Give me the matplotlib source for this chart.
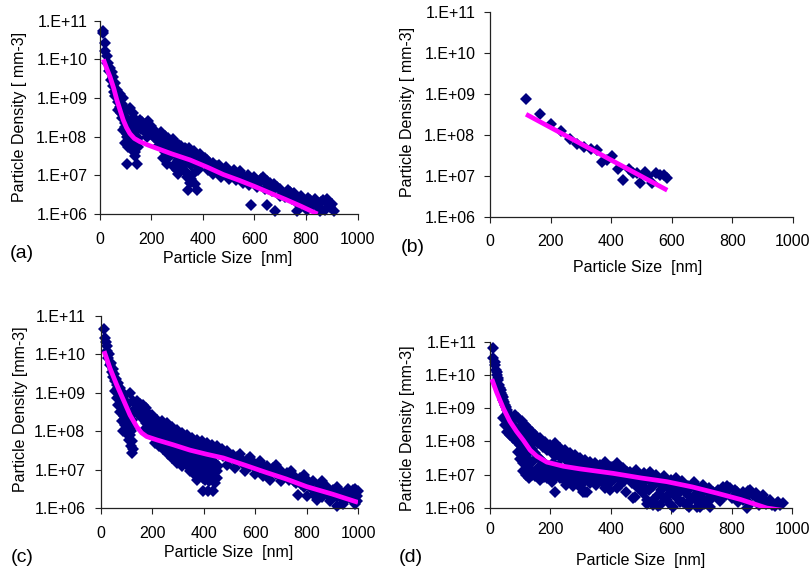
import matplotlib
matplotlib.use("Agg")
import matplotlib.pyplot as plt
from matplotlib.ticker import FixedLocator, NullLocator

plt.rcParams['font.family'] = ['Liberation Sans', 'DejaVu Sans']

# ---------------- data ----------------
a_x = [15, 15, 21, 21, 28, 34, 41, 47, 54, 60, 66, 79, 92, 86, 73, 105, 118, 131, 112, 99, 92, 105, 99, 112,
       125, 138, 151, 131, 144, 118, 105, 144, 138, 157, 170, 189, 202, 221, 241, 183, 215, 260, 280, 273,
       299, 325, 351, 377, 403, 428, 454, 480, 273, 260, 286, 306, 325, 338, 351, 344, 377, 364, 383, 247,
       415, 454, 493, 519, 545, 570, 596, 635, 661, 687, 712, 738, 764, 790, 816, 842, 868, 881, 894, 907,
       589, 648, 680, 764, 803, 855,
       420, 440, 470, 500, 510, 530, 555, 560, 580, 610, 620, 640, 655, 670, 700, 720, 745, 760, 780, 800,
       820, 830, 850, 875, 885,
       160, 175, 195, 210, 230, 250, 265, 290, 310, 330, 345, 365, 390, 230, 245, 255, 290, 305, 320, 340,
       355, 370, 395, 300, 335, 355, 370,
       30, 38, 45, 52, 58, 62, 70, 78, 82, 88, 95, 100, 108, 115, 122, 130, 125, 140, 150,
       135, 145, 155, 165, 180, 200, 215, 240, 255, 270, 285, 300, 315, 335, 355, 375, 395, 410, 440, 465,
       490, 520, 550, 575, 600, 625, 650, 675, 700, 730, 755, 780, 810, 835, 860, 880, 900]
a_y = [5.5e10, 4.7e10, 2.6e10, 1.6e10, 1.2e10, 7.9e9, 5.9e9, 4.8e9, 3.5e9, 2.4e9, 1.6e9, 1.3e9, 9.8e8, 7.2e8,
       4.9e8, 4.9e8, 5.4e8, 4.1e8, 2.7e8, 2.2e8, 1.5e8, 1.0e8, 6.8e7, 5.5e7, 4.6e7, 4.1e7, 5.5e7, 6.8e7,
       8.3e7, 1.5e8, 2.0e7, 2.0e7, 3.1e7, 2.7e8, 2.0e8, 2.5e8, 1.5e8, 1.2e8, 1.1e8, 1.0e8, 9.1e7, 7.4e7,
       6.8e7, 5.5e7, 4.6e7, 4.1e7, 3.4e7, 2.8e7, 2.3e7, 1.9e7, 1.5e7, 1.3e7, 3.1e7, 2.0e7, 1.7e7, 1.1e7,
       1.7e7, 9.3e6, 6.3e6, 4.3e6, 4.3e6, 1.1e7, 1.4e7, 2.8e7,
       2.5e7, 1.7e7, 1.4e7, 1.15e7, 1.26e7, 9.3e6, 7.6e6, 9.3e6, 6.3e6, 5.1e6, 3.5e6, 3.8e6, 2.8e6, 2.3e6,
       2.3e6, 1.9e6, 2.3e6, 1.9e6, 1.55e6, 1.17e6,
       1.7e6, 1.7e6, 1.17e6, 1.17e6, 1.3e6, 1.17e6,
       1.4e7, 1.1e7, 9e6, 8e6, 1e7, 7.5e6, 6.5e6, 8e6, 5.5e6, 5e6, 6.5e6, 4.5e6, 5.5e6, 4e6, 3e6, 2.7e6,
       2.5e6, 2e6, 1.8e6, 1.6e6, 1.5e6, 1.8e6, 1.4e6, 1.3e6, 2.1e6,
       1.6e8, 1.3e8, 1.15e8, 1.0e8, 9e7, 8.5e7, 9.5e7, 7e7, 6e7, 5.2e7, 5e7, 4.2e7, 3.5e7, 6e7, 5e7, 4e7,
       3.7e7, 2.5e7, 2.8e7, 2.2e7, 1.8e7, 2e7, 1.8e7, 1.4e7, 1.2e7, 8e6, 6e6,
       8e9, 5e9, 3e9, 2e9, 1.4e9, 1.1e9, 8e8, 6e8, 4e8, 3e8, 3.5e8, 1.8e8, 1.2e8, 9e7, 7e7, 1.1e8, 2e8,
       1.4e8, 9e7,
       3e8, 2.2e8, 1.8e8, 2.4e8, 1.7e8, 1.9e8, 1.4e8, 1.3e8, 1.05e8, 8e7, 8.5e7, 6.5e7, 5.8e7, 4.8e7, 4.2e7,
       3.6e7, 3e7, 2.8e7, 2.1e7, 1.8e7, 1.6e7, 1.4e7, 1.1e7, 1.05e7, 9e6, 8e6, 7e6, 6e6, 4.5e6, 4.3e6,
       3.4e6, 3e6, 2.6e6, 2.4e6, 2e6, 2.4e6, 1.8e6]
a_fit_x = [15, 28, 41, 55, 67, 80, 92, 105, 118, 135, 157, 190, 222, 280, 351, 420, 480, 540, 600, 661, 720,
           780, 845]
a_fit_y = [1e10, 5.8e9, 3.5e9, 1.8e9, 9e8, 4.8e8, 2.7e8, 1.7e8, 1.2e8, 9e7, 7.4e7, 6e7, 5e7, 3.6e7, 2.5e7,
           1.6e7, 1.05e7, 7.5e6, 5.2e6, 3.5e6, 2.4e6, 1.6e6, 1.0e6]

b_x = [119, 165, 201, 234, 264, 286, 310, 333, 352, 371, 385, 401, 424, 438, 458, 471, 484, 495, 512, 520,
       535, 548, 561, 574, 583]
b_y = [7.6e8, 3.2e8, 1.9e8, 1.25e8, 7.8e7, 5.9e7, 5.0e7, 4.5e7, 4.2e7, 2.2e7, 2.4e7, 3.0e7, 1.45e7, 8e6,
       1.45e7, 1.17e7, 1.17e7, 6.8e6, 1.25e7, 1e7, 6.8e6, 1.17e7, 1.07e7, 1.05e7, 8.8e6]
b_fit_x = [119, 585]
b_fit_y = [3.2e8, 4.5e6]

c_x = [12, 16, 20, 22, 25, 29, 35, 42, 48, 55, 61, 67, 74, 80, 87, 93, 100, 106, 113, 119, 106, 100, 113,
       119, 119, 80, 87, 93, 74, 67, 61, 55, 113, 126, 139, 152, 165, 178, 197, 217, 236, 256, 275, 295,
       314, 333, 353, 372, 392, 411, 431, 450, 470, 489, 256, 268, 288, 301, 320, 333, 346, 359, 372, 385,
       398, 411, 424, 437, 443, 372, 405, 450, 398, 418, 437, 346,
       30, 38, 45, 52, 58, 65, 72, 78, 85, 90, 95, 98, 102, 108, 110, 115, 122, 85, 90, 95, 130, 145, 160,
       175, 190, 210, 170, 190, 205, 220, 240, 230, 250, 270, 290, 310, 330, 350, 370, 390, 410, 430, 250,
       270, 300, 320, 340, 360, 380, 400, 420, 440, 290, 310, 330, 350, 365, 390, 410, 425, 445,
       463, 489, 515, 541, 567, 593, 619, 645, 671, 697, 722, 748, 774, 800, 826, 852, 878, 904, 930, 956,
       982, 995, 489, 632, 658, 768, 800, 839, 917, 943, 975, 988,
       475, 500, 520, 530, 550, 560, 580, 600, 610, 630, 650, 660, 680, 700, 710, 730, 750, 760, 780, 790,
       810, 820, 840, 850, 870, 880, 890, 905, 920, 935, 950, 965, 975, 985, 995, 830, 860, 890, 600, 560,
       520, 700,
       140, 150, 160, 175, 185, 200, 215, 225, 245, 260, 280, 300, 320, 340, 360, 380, 400, 420, 440, 460,
       210, 225, 240, 260, 275, 285, 295, 310, 315, 325, 340, 345, 355, 360, 375, 380, 395, 400, 410, 415,
       430, 430, 440, 450, 455, 395, 420, 445,
       540, 580, 620, 680, 740, 790, 860, 920, 960, 1000, 990, 980,
       125, 118, 110, 105, 100]
c_y = [4.6e10, 2.6e10, 2.1e10, 1.6e10, 1.2e10, 7.8e9, 5.2e9, 3.5e9, 2.6e9, 1.95e9, 1.6e9, 1.3e9, 1.07e9,
       8.7e8, 7.1e8, 5.9e8, 4.8e8, 3.2e8, 2.4e8, 1.95e8, 1.45e8, 9.8e7, 7.9e7, 5.4e7, 2.7e7, 1.8e8, 9.8e7,
       1.45e8, 3.2e8, 4.8e8, 7.1e8, 1.07e9, 9.5e8, 5.9e8, 4.8e8, 3.9e8, 4.8e8, 3.2e8, 2.6e8, 1.95e8,
       1.8e8, 1.6e8, 1.3e8, 1.07e8, 8.7e7, 7.9e7, 6.5e7, 5.9e7, 5.4e7, 4.9e7, 4.4e7, 4.0e7, 3.5e7,
       2.95e7, 3.5e7, 2.95e7, 2.2e7, 2.0e7, 1.6e7, 1.3e7, 1.1e7, 2.0e7, 8.9e6, 1.3e7, 7.2e6, 1.1e7,
       8.9e6, 6.0e6, 1.0e7, 5.4e6, 5.4e6, 6.0e6, 2.7e6, 2.7e6, 2.7e6, 2.2e7,
       1e10, 6e9, 4e9, 3e9, 2.2e9, 1.8e9, 1.3e9, 1.1e9, 8e8, 6e8, 4e8, 3e8, 2.2e8, 1.7e8, 1.2e8, 1e8,
       1.3e8, 3.5e8, 2.5e8, 2e8, 3.5e8, 2.8e8, 2.2e8, 1.6e8, 1.3e8, 1.1e8, 1.1e8, 8.5e7, 7e7, 6.5e7, 6e7,
       9e7, 8e7, 7e7, 6e7, 5e7, 4.5e7, 4e7, 3.5e7, 3e7, 2.8e7, 2.5e7, 5e7, 4.5e7, 4e7, 3.5e7, 3e7, 2.7e7,
       2.2e7, 2e7, 1.8e7, 1.6e7, 3e7, 2.8e7, 2.4e7, 1.7e7, 1.4e7, 1.6e7, 1.4e7, 1.2e7, 1.3e7,
       3.0e7, 2.7e7, 2.4e7, 2.0e7, 1.8e7, 1.6e7, 1.45e7, 1.2e7, 1.1e7, 9.8e6, 7.9e6, 7.2e6, 5.9e6, 5.4e6,
       4.9e6, 4.0e6, 3.6e6, 3.0e6, 2.7e6, 2.5e6, 3.0e6, 2.0e6, 1.35e7, 6.6e6, 5.4e6, 2.2e6, 2.0e6,
       1.6e6, 1.1e6, 1.3e6, 1.6e6, 1.3e6,
       2.2e7, 2e7, 1.7e7, 2.1e7, 1.5e7, 1.3e7, 1.2e7, 1.1e7, 1.3e7, 9.5e6, 8.5e6, 1e7, 7.5e6, 7e6, 6e6,
       5.5e6, 5e6, 4.5e6, 4.2e6, 3.5e6, 3.8e6, 3.2e6, 3e6, 2.6e6, 2.8e6, 2.3e6, 2.1e6, 2.2e6, 1.9e6,
       1.8e6, 1.6e6, 1.9e6, 2.3e6, 2.6e6, 1.5e6, 2.2e6, 1.9e6, 1.5e6, 7.5e6, 9e6, 1.1e7, 5e6,
       6e8, 5e8, 3e8, 4e8, 2e8, 2.2e8, 1.5e8, 1.3e8, 1.2e8, 1.1e8, 9e7, 8e7, 6.5e7, 5.5e7, 5e7, 4.5e7, 4e7,
       3.6e7, 3.3e7, 2.6e7,
       5e7, 4e7, 3.5e7, 2.5e7, 2e7, 3.5e7, 1.5e7, 1.8e7, 1.2e7, 2e7, 1.5e7, 9e6, 1.2e7, 7.5e6, 1.1e7, 8e6,
       9e6, 1.2e7, 7.5e6, 1.7e7, 7e6, 1.5e7, 8e6, 9e6, 1.2e7, 6e6, 5e6, 4.5e6,
       2.6e7, 2.1e7, 1.7e7, 1.3e7, 9e6, 7e6, 5e6, 3.5e6, 3.2e6, 2.8e6, 3.2e6, 2e6,
       3.5e7, 4e7, 6e7, 8e7, 1.2e8]
c_fit_x = [12, 35, 61, 87, 113, 139, 158, 178, 217, 281, 346, 411, 476, 560, 645, 720, 800, 900, 1000]
c_fit_y = [1.2e10, 4.3e9, 1.6e9, 6.5e8, 2.6e8, 1.3e8, 9e7, 7.2e7, 5.9e7, 4.4e7, 3.2e7, 2.5e7, 2e7, 1.3e7,
           8.3e6, 5.7e6, 3.6e6, 2.3e6, 1.4e6]

d_x = [9, 11, 17, 20, 24, 28, 31, 35, 40, 44, 50, 55, 61, 66, 72, 77, 44, 50, 55, 66, 77, 88, 94, 99, 83, 94,
       105, 116, 127, 138, 149, 166, 182, 199, 215, 232, 248, 265, 282, 298, 315, 331, 348, 364, 381, 397,
       414, 110, 121, 138, 144, 160, 177, 188, 204, 215, 232, 248, 265, 282, 298, 309, 320, 331, 353, 364,
       386, 408,
       403, 419, 441, 463, 485, 508, 530, 552, 574, 596, 618, 640, 662, 684, 706, 728, 750, 773, 795, 817,
       839, 861, 883, 905, 927, 949, 971, 419, 463, 480, 508, 541, 563, 585, 607, 629, 651, 684, 706, 728,
       839, 850, 397, 475, 519, 541,
       15, 22, 26, 33, 38, 42, 48, 52, 58, 63, 68, 72, 80, 85, 90, 100, 105, 110, 115, 120, 125, 130, 135,
       140, 150, 160, 170, 180, 190, 200, 160, 175, 190, 205, 220, 235, 250, 265, 280, 295, 310, 325, 340,
       355, 370, 210, 225, 240, 255, 270, 290, 305, 320, 340, 355, 375, 390, 420, 430, 440, 450, 460, 470,
       480, 490, 500, 510, 520, 535, 545, 560, 570, 580, 590, 600, 610, 620, 630, 645, 655, 670, 680, 690,
       700, 715, 720, 740, 760, 780, 800, 820, 830, 860, 870, 895, 915, 935, 960, 430, 450, 490, 525, 555,
       575, 600, 620, 640, 660, 690, 710, 220, 250, 275, 300, 330, 350, 370, 380, 395, 150, 165, 130,
       95, 110, 120, 145, 155, 170, 185, 195, 210, 225, 240, 260, 275, 290, 305, 320, 335, 350, 365, 385, 400,
       100, 108, 118, 128, 140, 155, 165, 180, 190, 200, 215, 230, 245, 260, 275, 285, 300, 315, 325, 345,
       360, 375, 390, 405, 315,
       410, 425, 445, 455, 470, 485, 495, 505, 515, 530, 540, 550, 565, 575, 590, 605, 615, 625, 635, 650,
       665, 675, 695, 705, 725, 735, 755, 770, 785, 810, 820, 845, 855, 880, 890, 910, 925, 945, 955,
       520, 555, 595, 660, 695]
d_y = [6.6e10, 3.3e10, 2.0e10, 1.4e10, 1.0e10, 7.1e9, 5.0e9, 3.5e9, 2.5e9, 1.8e9, 1.26e9, 8.9e8, 6.3e8,
       5.0e8, 4.0e8, 3.2e8, 5.0e8, 3.1e8, 1.95e8, 1.55e8, 1.23e8, 9.8e7, 4.9e7, 7.8e7, 6.3e8, 5.0e8,
       4.0e8, 3.1e8, 2.5e8, 1.95e8, 1.55e8, 1.23e8, 9.8e7, 7.8e7, 8.7e7, 6.2e7, 5.5e7, 4.4e7, 3.9e7,
       3.1e7, 2.75e7, 2.45e7, 2.2e7, 1.95e7, 2.45e7, 1.74e7, 1.55e7, 2.2e7, 1.55e7, 2.45e7, 1.23e7,
       1.55e7, 1.1e7, 7.8e6, 6.2e6, 3.1e6, 7.8e6, 9.8e6, 6.9e6, 1.23e7, 6.2e6, 3.1e6, 3.1e6, 9.8e6,
       7.8e6, 1.38e7, 7.8e6, 9.8e6,
       1.74e7, 2.2e7, 1.55e7, 1.23e7, 1.38e7, 8.7e6, 9.8e6, 6.9e6, 7.8e6, 6.2e6, 4.9e6, 5.5e6, 3.9e6,
       3.5e6, 3.1e6, 2.75e6, 2.2e6, 4.4e6, 3.9e6, 3.1e6, 3.1e6, 3.5e6, 1.95e6, 2.45e6, 1.74e6, 1.38e6,
       1.38e6, 3.9e6, 6.9e6, 2.2e6, 2.75e6, 1.74e6, 1.23e6, 1.74e6, 1.1e6, 1.55e6, 1.23e6, 1.1e6,
       1.74e6, 1.1e6, 1.74e6, 1.0e6, 3.5e6, 1.95e6, 1.74e6, 1.23e6,
       2.5e10, 1.2e10, 8e9, 4e9, 2.8e9, 2.2e9, 1.5e9, 1.1e9, 7e8, 5.5e8, 3.8e8, 2.5e8, 2e8, 1.5e8, 1.2e8,
       1.5e8, 1e8, 7e7, 5e7, 4e7, 3e7, 1.1e8, 8e7, 6e7, 4.5e7, 3.5e7, 2.8e7, 2.2e7, 1.8e7, 1.5e7, 9e7,
       7e7, 5.5e7, 4.5e7, 3.8e7, 3.2e7, 2.8e7, 2.4e7, 2.2e7, 2e7, 1.8e7, 1.6e7, 1.5e7, 1.4e7, 1.3e7,
       2.2e7, 1.8e7, 1.5e7, 1.3e7, 1.2e7, 1.1e7, 1e7, 9e6, 1.1e7, 1.2e7, 1e7, 1.2e7, 1.1e7, 1.3e7, 9e6,
       1e7, 8e6, 1.05e7, 7e6, 9e6, 6e6, 1.1e7, 7.5e6, 5.5e6, 8.5e6, 6e6, 4.5e6, 5.5e6, 4e6, 7e6, 3.5e6,
       6e6, 4.2e6, 3e6, 4.5e6, 5e6, 2.5e6, 4e6, 2.2e6, 3.5e6, 1.8e6, 3e6, 1.6e6, 2.5e6, 2e6, 1.5e6,
       2.3e6, 1.3e6, 2.4e6, 1.5e6, 1.3e6, 1.2e6, 1.25e6, 5e6, 3e6, 4e6, 3.5e6, 2.5e6, 2e6, 2.8e6, 2e6,
       1.5e6, 2.3e6, 1.5e6, 1.3e6, 1.2e7, 5e6, 4.5e6, 4e6, 5.5e6, 5e6, 6e6, 4e6, 5.5e6, 9e6, 7e6, 1.2e7,
       2.5e8, 2e8, 1.6e8, 1.3e8, 1e8, 1.05e8, 8e7, 6.5e7, 6e7, 5e7, 4.5e7, 3.5e7, 3e7, 2.6e7, 2.4e7, 2.1e7,
       1.9e7, 1.7e7, 1.6e7, 1.5e7, 1.35e7,
       3e7, 1.3e7, 1e7, 8e6, 9.5e6, 1.1e7, 1.3e7, 8.5e6, 1.2e7, 1e7, 8.5e6, 1.05e7, 7e6, 8.5e6, 1e7, 7.5e6,
       8.5e6, 6.5e6, 1.1e7, 8e6, 9e6, 7e6, 8e6, 6.5e6, 3e6,
       1.4e7, 8e6, 6.5e6, 1.2e7, 5.5e6, 1e7, 7.5e6, 4.5e6, 8e6, 1.2e7, 4.5e6, 1e7, 3.5e6, 9e6, 2.5e6, 5e6,
       8e6, 2.8e6, 6.5e6, 3.5e6, 1.8e6, 6e6, 2.8e6, 5e6, 4e6, 2e6, 3.5e6, 2.2e6, 4.5e6, 3.5e6, 2.3e6, 2e6,
       3.2e6, 2.8e6, 1.2e6, 1.8e6, 1.5e6, 1.15e6, 1.5e6,
       1.3e6, 1.15e6, 1.3e6, 1.05e6, 1.1e6]
d_fit_x = [6, 22, 44, 66, 88, 110, 133, 155, 188, 243, 298, 408, 500, 585, 670, 751, 830, 916, 968]
d_fit_y = [7.5e9, 3e9, 1e9, 4e8, 2e8, 1.1e8, 5.5e7, 3.6e7, 2.4e7, 1.8e7, 1.5e7, 1.1e7, 8e6, 6.2e6, 4.3e6,
           2.8e6, 1.8e6, 1.0e6, 8.5e5]

x_ticks = [0, 200, 400, 600, 800, 1000]
y_ticks = [1e6, 1e7, 1e8, 1e9, 1e10, 1e11]
y_tick_labels = ["1.E+06", "1.E+07", "1.E+08", "1.E+09", "1.E+10", "1.E+11"]

panels = [
    dict(x=a_x, y=a_y, fx=a_fit_x, fy=a_fit_y, rect=(99.5, 357.5, 20.7, 214), xpad=8.7, ypad=4.8,
         ylabel="Particle Density [ mm-3]", ylab=(20, 117), xlab=(228, 258), tag="(a)", tagpos=(10, 254)),
    dict(x=b_x, y=b_y, fx=b_fit_x, fy=b_fit_y, rect=(490, 793, 12, 217), xpad=8.1, ypad=6.6,
         ylabel="Particle Density [ mm-3]", ylab=(408, 112), xlab=(638, 268), tag="(b)", tagpos=(401, 247)),
    dict(x=c_x, y=c_y, fx=c_fit_x, fy=c_fit_y, rect=(101, 358, 315.7, 508), xpad=8.7, ypad=7.3,
         ylabel="Particle Density [mm-3]", ylab=(20.5, 409), xlab=(229, 552), tag="(c)", tagpos=(11, 557)),
    dict(x=d_x, y=d_y, fx=d_fit_x, fy=d_fit_y, rect=(490, 792, 341.7, 508), xpad=6.0, ypad=5.9,
         ylabel="Particle Density [mm-3]", ylab=(407.5, 428), xlab=(641, 561), tag="(d)", tagpos=(399, 558)),
]

W, H = 809, 574
fig = plt.figure(figsize=(W / 100, H / 100), dpi=100)

NAVY = "#000080"
MAGENTA = "#FF00FF"

for p in panels:
    l, r, t, b = p["rect"]
    ax = fig.add_axes([l / W, 1 - b / H, (r - l) / W, (b - t) / H])
    ax.set_yscale("log")
    ax.plot(p["x"], p["y"], linestyle="none", marker="D", markersize=6.0, color=NAVY,
            markeredgewidth=0, clip_on=False, zorder=2)
    ax.plot(p["fx"], p["fy"], color=MAGENTA, linewidth=3.4, solid_capstyle="butt", zorder=3)
    ax.set_xlim(0, 1000)
    ax.set_ylim(1e6, 1e11)
    ax.xaxis.set_major_locator(FixedLocator(x_ticks))
    ax.set_xticklabels([str(v) for v in x_ticks])
    ax.yaxis.set_major_locator(FixedLocator(y_ticks))
    ax.yaxis.set_minor_locator(NullLocator())
    ax.set_yticklabels(y_tick_labels)
    ax.tick_params(axis="x", direction="out", length=4, width=0.8, pad=p["xpad"], labelsize=11.5,
                   color="#222222")
    ax.tick_params(axis="y", direction="out", length=4, width=0.8, pad=p["ypad"], labelsize=11.5,
                   color="#222222")
    for s in ("top", "right"):
        ax.spines[s].set_visible(False)
    for s in ("left", "bottom"):
        ax.spines[s].set_linewidth(0.9)
        ax.spines[s].set_color("#222222")
    ax.set_facecolor("none")

    fig.text(p["ylab"][0] / W, 1 - p["ylab"][1] / H, p["ylabel"], rotation=90, ha="center", va="center",
             fontsize=11.5)
    fig.text(p["xlab"][0] / W, 1 - p["xlab"][1] / H, "Particle Size  [nm]", ha="center", va="center",
             fontsize=11.5)
    fig.text(p["tagpos"][0] / W, 1 - p["tagpos"][1] / H, p["tag"], ha="left", va="center", fontsize=14)

fig.savefig("out.png", dpi=100)
